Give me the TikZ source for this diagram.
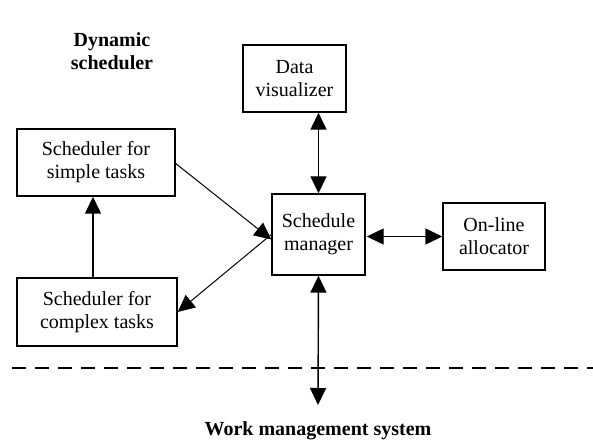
\documentclass[tikz,border=0pt]{standalone}
\usepackage{fontspec}
\setmainfont{Liberation Serif}
\usetikzlibrary{arrows.meta}
\begin{document}
\begin{tikzpicture}[x=1pt,y=-1pt,
  box/.style={draw,line width=1.4pt,inner sep=0pt,align=center,font=\fontsize{20}{23}\selectfont},
  lbl/.style={align=center,font=\bfseries\fontsize{20}{23}\selectfont},
  conn/.style={line width=1pt,-{Triangle[length=17pt,width=16pt]}},
  biconn/.style={line width=1.4pt,{Triangle[length=17pt,width=16pt]}-{Triangle[length=17pt,width=16pt]}}]
\useasboundingbox (0,0) rectangle (593,443);
\node[lbl] (dyn) at (112,51) {Dynamic\\scheduler};
\node[box,minimum width=103pt,minimum height=67pt] (vis) at (294.5,78.5) {Data\\visualizer};
\node[box,minimum width=158pt,minimum height=67pt] (simple) at (96,162.5) {Scheduler for\\simple tasks};
\node[box,minimum width=93pt,minimum height=81pt] (mgr) at (318.5,234.5) {Schedule\\manager};
\node[box,minimum width=102pt,minimum height=67pt] (alloc) at (494,236.5) {On-line\\allocator};
\node[box,minimum width=160pt,minimum height=68pt] (complex) at (97,312) {Scheduler for\\complex tasks};
\node[lbl] (wms) at (318,431) {Work management system};
\coordinate (dl) at (12,368);
\coordinate (dr) at (593,368);
\coordinate (wtop) at (318,405);
\draw[line width=1.2pt,dash pattern=on 14pt off 9pt] (dl) -- (dr);
\draw[biconn] (vis.south -| mgr.north) -- (mgr.north);
\draw[conn] ([yshift=-1pt]simple.east) -- ([yshift=-5pt]mgr.west);
\draw[conn] ([yshift=0pt]mgr.west) -- ([yshift=0pt]complex.east);
\draw[conn,line width=1.4pt] (complex.north -| 93,0) -- (simple.south -| 93,0);
\draw[biconn] ([xshift=1pt]mgr.east |- alloc.west) -- (alloc.west);
\draw[biconn] (mgr.south) -- (wtop);
\end{tikzpicture}
\end{document}
